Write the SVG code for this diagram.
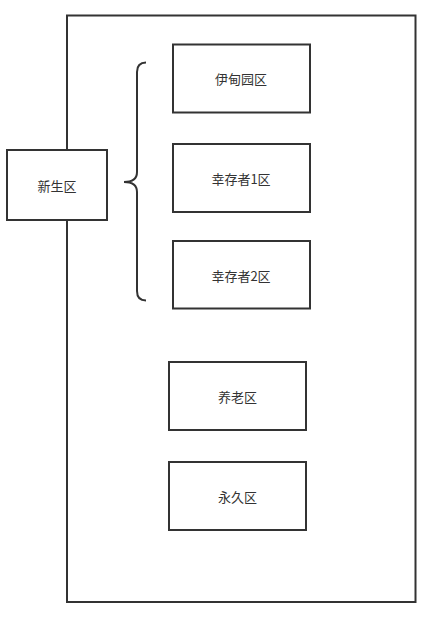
<svg xmlns="http://www.w3.org/2000/svg" width="441" height="621" viewBox="0 0 441 621">
<style>
.b{fill:#fff;stroke:#333;stroke-width:2}
.t{font-family:"Noto Sans CJK SC","Liberation Sans",sans-serif;font-size:13px;fill:#333;text-anchor:middle;dominant-baseline:central}
.c{fill:none;stroke:#333;stroke-width:2}
</style>
<rect width="441" height="621" fill="#fff"/>
<g id="container"><rect class="b" x="67" y="15.5" width="348.5" height="586.5"/></g>
<g id="connectors"><path class="c" d="M146,62.5 Q137,62.5 137,72 L137,172 Q137,182 124,182 Q137,182 137,192 L137,291 Q137,300.5 146,300.5"/></g>
<g id="xinsheng"><rect class="b" x="7" y="150" width="100" height="70"/><text class="t" x="57" y="185">新生区</text></g>
<g id="eden"><rect class="b" x="173" y="44.5" width="137" height="68"/><text class="t" x="241" y="78.5">伊甸园区</text></g>
<g id="s1"><rect class="b" x="173" y="144" width="137" height="68"/><text class="t" x="241" y="178">幸存者1区</text></g>
<g id="s2"><rect class="b" x="173" y="241" width="137" height="67.5"/><text class="t" x="241" y="275">幸存者2区</text></g>
<g id="old"><rect class="b" x="169" y="362" width="137" height="68"/><text class="t" x="237.5" y="396">养老区</text></g>
<g id="perm"><rect class="b" x="169" y="462" width="137" height="68"/><text class="t" x="237.5" y="496">永久区</text></g>
</svg>
